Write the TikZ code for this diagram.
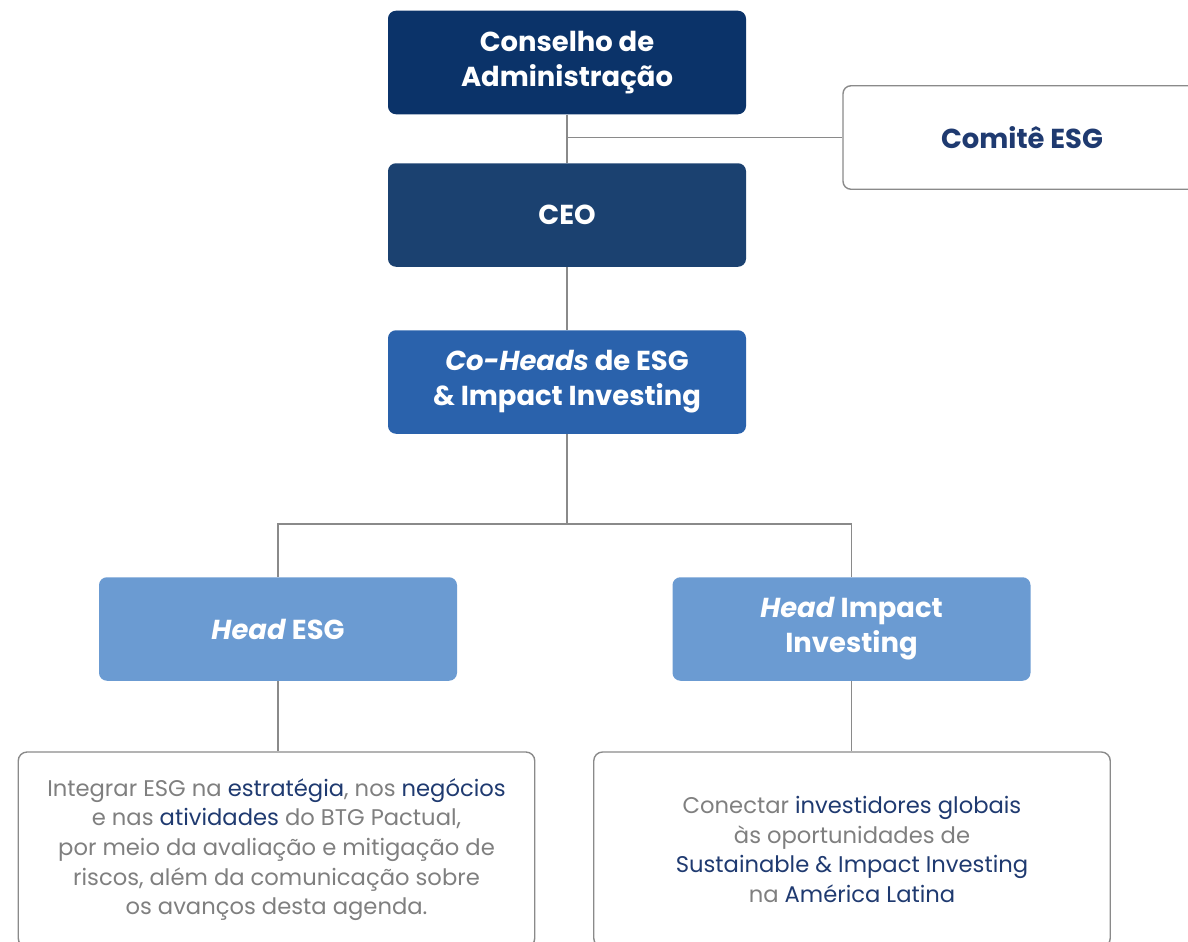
\documentclass[tikz,border=0pt]{standalone}
\usepackage{fontspec}
\setmainfont{Poppins}
\usepackage{tikz}
\usetikzlibrary{positioning, calc}

\definecolor{navyA}{HTML}{0B3369}
\definecolor{navyB}{HTML}{1B4170}
\definecolor{blueC}{HTML}{2A62AC}
\definecolor{blueD}{HTML}{6B9BD2}
\definecolor{inkblue}{HTML}{1F3A70}
\definecolor{inkgray}{HTML}{7F7F7F}
\definecolor{linegray}{HTML}{8A8A8A}

\newcommand{\hl}[1]{\textcolor{inkblue}{#1}}

\begin{document}
\begin{tikzpicture}[
    box/.style={rectangle, rounded corners=4.5pt, minimum width=7.16cm, minimum height=2.07cm, align=center, text=white, font=\fontsize{15.6}{20}\selectfont\bfseries},
    descbox/.style={rectangle, draw=linegray, line width=0.8pt, rounded corners=5pt, minimum width=10.33cm, minimum height=3.9cm, align=center, text=inkgray, font=\fontsize{12.9}{16.9}\selectfont},
    conn/.style={draw=linegray, line width=0.9pt},
]
\useasboundingbox (0,0) rectangle (23.76,-18.82);

% top of the chart
\node[box, fill=navyA] (conselho) at (11.34, -1.25) {Conselho de\\Administração};
\node[box, fill=navyB] (ceo) at (11.34, -4.30) {CEO};
\node[box, fill=white, draw=linegray, line width=0.8pt, text=inkblue] (comite) at (20.44, -2.75) {Comitê ESG};
\node[box, fill=blueC] (coheads) at (11.34, -7.64) {\textit{Co-Heads} de ESG\\\& Impact Investing};

% heads
\node[box, fill=blueD] (headesg) at (5.56, -12.58) {\textit{Head} ESG};
\node[box, fill=blueD] (headimp) at (17.03, -12.58) {\textit{Head} Impact\\Investing};

% descriptions
\node[descbox] (descesg) at (5.53, -16.99) {Integrar ESG na \hl{estratégia}, nos \hl{negócios}\\e nas \hl{atividades} do BTG Pactual,\\por meio da avaliação e mitigação de\\riscos, além da comunicação sobre\\os avanços desta agenda.};
\node[descbox] (descimp) at (17.04, -16.99) {Conectar \hl{investidores globais}\\às oportunidades de\\\hl{Sustainable \& Impact Investing}\\na \hl{América Latina}};

\coordinate (split) at ($(coheads.south)+(0,-1.8)$);

\draw[conn] (conselho.south) -- (ceo.north);
\draw[conn] (comite.west) -- (comite.west -| conselho.south);
\draw[conn] (ceo.south) -- (coheads.north);
\draw[conn] (coheads.south) -- (split) -| (headesg.north);
\draw[conn] (split) -| (headimp.north);
\draw[conn] (headesg.south) -- (descesg.north -| headesg.south);
\draw[conn] (headimp.south) -- (descimp.north -| headimp.south);

\end{tikzpicture}
\end{document}
